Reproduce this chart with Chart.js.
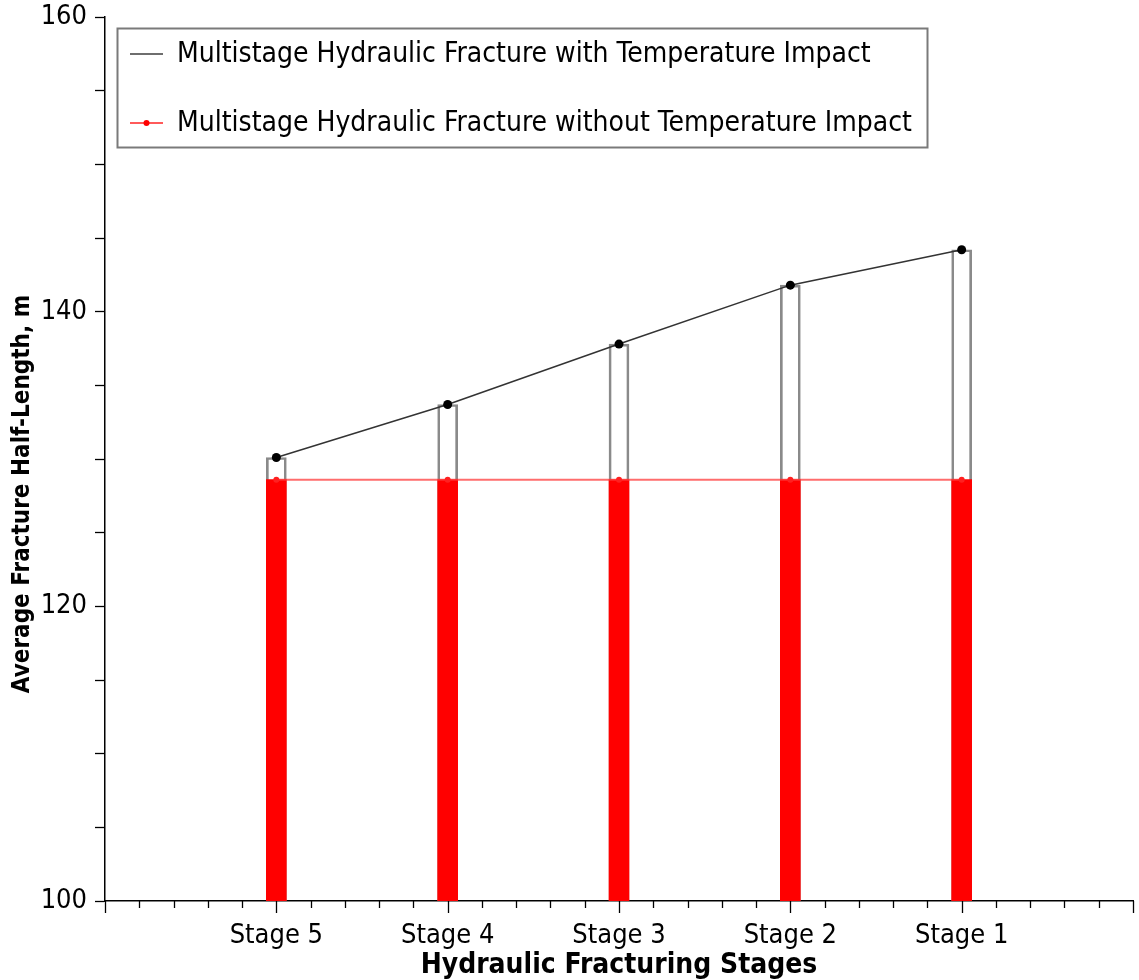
<!DOCTYPE html>
<html>
<head>
<meta charset="utf-8">
<title>Average Fracture Half-Length by Stage</title>
<script src="https://cdn.jsdelivr.net/npm/chart.js@4.4.1/dist/chart.umd.min.js"></script>
<style>
  html, body { margin: 0; padding: 0; background: #ffffff; }
  #wrap { width: 1139px; height: 980px; }
</style>
</head>
<body>
<div id="wrap"><canvas id="chart" width="1139" height="980"></canvas></div>
<script>
// Stages, left to right along the x axis
const stages = ['Stage 5', 'Stage 4', 'Stage 3', 'Stage 2', 'Stage 1'];
// Average fracture half-length (m) per stage
const withTemperature = [130.1, 133.7, 137.8, 141.8, 144.2];
const withoutTemperature = [128.6, 128.6, 128.6, 128.6, 128.6];
// Y-axis labelled values
const yLabels = [100, 120, 140, 160];

const seriesNames = [
  'Multistage Hydraulic Fracture with Temperature Impact',
  'Multistage Hydraulic Fracture without Temperature Impact'
];

const FONT = '"DejaVu Sans Condensed", "DejaVu Sans", sans-serif';
const BASE = 100;

const xPos = stages.map((s, i) => i + 1);
const ptsWith = xPos.map((x, i) => ({ x: x, y: withTemperature[i] }));
const ptsWithout = xPos.map((x, i) => ({ x: x, y: withoutTemperature[i] }));
const barsWith = xPos.map((x, i) => ({ x: x, y: [BASE, withTemperature[i]] }));
const barsWithout = xPos.map((x, i) => ({ x: x, y: [BASE, withoutTemperature[i]] }));

const isInt = v => Math.abs(v - Math.round(v)) < 1e-6;

// x-axis tick marks: long at whole units, short in between
const xTickMarks = {
  id: 'xTickMarks',
  afterDraw(chart) {
    const sx = chart.scales.x, ctx = chart.ctx;
    const y0 = sx.top;
    ctx.save();
    ctx.strokeStyle = '#000';
    ctx.lineWidth = 1.3;
    for (let k = 0; k <= 30; k++) {
      const v = k / 5;
      const px = Math.round(sx.getPixelForValue(v)) + 0.5;
      const len = (k % 5 === 0) ? 12 : 7;
      ctx.beginPath();
      ctx.moveTo(px, y0);
      ctx.lineTo(px, y0 + len);
      ctx.stroke();
    }
    ctx.restore();
  }
};

// y-axis title, centred on the canvas height
const yTitle = {
  id: 'yTitle',
  afterDraw(chart) {
    const ctx = chart.ctx;
    ctx.save();
    ctx.translate(23, 494);
    ctx.rotate(-Math.PI / 2);
    ctx.font = 'bold 24px ' + FONT;
    ctx.fillStyle = '#000';
    ctx.textAlign = 'center';
    ctx.textBaseline = 'middle';
    ctx.fillText('Average Fracture Half-Length, m', 0, 0);
    ctx.restore();
  }
};

// Boxed legend in the upper-left of the plot area
const boxLegend = {
  id: 'boxLegend',
  afterDraw(chart) {
    const ctx = chart.ctx;
    const x0 = 117, y0 = 28, w = 810, h = 119;
    ctx.save();
    ctx.fillStyle = '#fff';
    ctx.fillRect(x0, y0, w, h);
    ctx.strokeStyle = '#7a7a7a';
    ctx.lineWidth = 2;
    ctx.strokeRect(x0 + 0.5, y0 + 0.5, w, h);
    const rows = [
      { y: 54, color: '#6e6e6e', dot: false, text: seriesNames[0] },
      { y: 123, color: '#ff5a5a', dot: true, text: seriesNames[1] }
    ];
    rows.forEach(r => {
      ctx.strokeStyle = r.color;
      ctx.lineWidth = 2;
      ctx.beginPath();
      ctx.moveTo(130, r.y);
      ctx.lineTo(163, r.y);
      ctx.stroke();
      if (r.dot) {
        ctx.fillStyle = '#ff0000';
        ctx.beginPath();
        ctx.arc(146.5, r.y, 3, 0, Math.PI * 2);
        ctx.fill();
      }
      ctx.fillStyle = '#000';
      ctx.font = '28px ' + FONT;
      ctx.textBaseline = 'middle';
      ctx.textAlign = 'left';
      ctx.fillText(r.text, 177, r.y + 1);
    });
    ctx.restore();
  }
};

Chart.defaults.font.family = FONT;
Chart.defaults.color = '#000';

new Chart(document.getElementById('chart'), {
  data: {
    datasets: [
      {
        type: 'bar',
        label: seriesNames[0] + ' (column)',
        data: barsWith,
        backgroundColor: 'rgba(0,0,0,0)',
        borderColor: '#8a8a8a',
        borderWidth: 2,
        borderSkipped: 'start',
        barThickness: 20,
        grouped: false,
        order: 4
      },
      {
        type: 'bar',
        label: seriesNames[1] + ' (column)',
        data: barsWithout,
        backgroundColor: '#ff0000',
        borderWidth: 0,
        barThickness: 20,
        grouped: false,
        order: 3
      },
      {
        type: 'line',
        label: seriesNames[1],
        data: ptsWithout,
        borderColor: 'rgba(255,60,60,0.75)',
        borderWidth: 2,
        pointRadius: 3,
        pointBackgroundColor: '#ff2020',
        pointBorderWidth: 0,
        tension: 0,
        order: 2
      },
      {
        type: 'line',
        label: seriesNames[0],
        data: ptsWith,
        borderColor: '#333333',
        borderWidth: 1.5,
        pointRadius: 4.5,
        pointBackgroundColor: '#000',
        pointBorderWidth: 0,
        tension: 0,
        order: 1
      }
    ]
  },
  options: {
    responsive: false,
    animation: false,
    devicePixelRatio: 1,
    layout: { padding: { top: 17, right: 6, left: 0, bottom: 0 } },
    plugins: {
      legend: { display: false },
      tooltip: { enabled: false }
    },
    scales: {
      x: {
        type: 'linear',
        min: 0,
        max: 6,
        offset: false,
        afterFit(scale) { scale.height = 79; },
        afterBuildTicks(scale) {
          const t = [];
          for (let k = 0; k <= 30; k++) t.push({ value: k / 5 });
          scale.ticks = t;
        },
        ticks: {
          autoSkip: false,
          maxRotation: 0,
          padding: 0,
          font: { size: 27 },
          color: '#000',
          callback(v) {
            if (!isInt(v)) return '';
            const i = Math.round(v) - 1;
            return (i >= 0 && i < stages.length) ? stages[i] : '';
          }
        },
        grid: { display: true, drawOnChartArea: false, drawTicks: true, tickLength: 19, tickColor: 'rgba(0,0,0,0)', color: 'rgba(0,0,0,0)' },
        border: { display: true, color: '#000', width: 1.5 },
        title: {
          display: true,
          text: 'Hydraulic Fracturing Stages',
          font: { size: 28, weight: 'bold', lineHeight: 1.02 },
          color: '#000',
          padding: { top: 3, bottom: 0 }
        }
      },
      y: {
        type: 'linear',
        min: 100,
        max: 160,
        afterFit(scale) { scale.width = 105; },
        afterBuildTicks(scale) {
          const t = [];
          for (let v = 100; v <= 160; v += 5) t.push({ value: v });
          scale.ticks = t;
        },
        ticks: {
          autoSkip: false,
          padding: 8,
          font: { size: 27, lineHeight: 0.6 },
          color: '#000',
          callback(v) { return yLabels.includes(v) ? String(v) : ''; }
        },
        grid: { display: true, drawOnChartArea: false, drawTicks: true, tickLength: 10, color: '#000', tickWidth: 1.3 },
        border: { display: true, color: '#000', width: 1.5 }
      }
    }
  },
  plugins: [xTickMarks, yTitle, boxLegend]
});
</script>
</body>
</html>
